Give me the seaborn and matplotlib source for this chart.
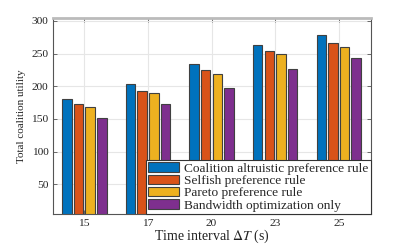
import matplotlib
matplotlib.use("Agg")
import matplotlib.pyplot as plt
import seaborn as sns
import pandas as pd

categories = ["15", "17", "20", "23", "25"]
series_names = ["Coalition altruistic preference rule", "Selfish preference rule",
                "Pareto preference rule", "Bandwidth optimization only"]
altruistic = [181, 204, 234, 263, 279]
selfish = [173, 193, 225, 254, 266]
pareto = [168, 190, 219, 249, 260]
bandwidth = [151, 173, 198, 226, 244]
colors = ["#0072BD", "#D95319", "#EDB120", "#7E2F8E"]

rows = []
for name, vals in zip(series_names, [altruistic, selfish, pareto, bandwidth]):
    for c, v in zip(categories, vals):
        rows.append({"interval": c, "utility": v, "rule": name})
df = pd.DataFrame(rows)

sns.set_style("white")
plt.rcParams["font.family"] = ["Liberation Serif", "DejaVu Serif"]
plt.rcParams["mathtext.fontset"] = "stix"

fig = plt.figure(figsize=(4.09, 2.45), dpi=100)
ax = fig.add_axes([0.130, 0.128, 0.776, 0.797])
sns.barplot(data=df, x="interval", y="utility", hue="rule", order=categories,
            hue_order=series_names, palette=colors, saturation=1, width=0.73, gap=0.18,
            edgecolor="#404040", linewidth=0.8, ax=ax, legend=True)

ax.set_xlim(-0.49, 4.5)
ax.set_ylim(5, 304)
ax.set_yticks([50, 100, 150, 200, 250, 300])
ax.grid(True, color="#e6e6e6", linewidth=0.8)
ax.set_axisbelow(True)
for s in ax.spines.values():
    s.set_visible(True)
    s.set_color("#555555")
    s.set_linewidth(0.8)
ax.spines["top"].set_color("#bbbbbb")
ax.spines["top"].set_linewidth(2)
ax.tick_params(axis="both", which="both", direction="in", length=3, width=0.6,
               colors="#555555", labelcolor="#222222", labelsize=8.2,
               top=True, right=True, bottom=True, left=True)
ax.tick_params(axis="x", pad=3.5)
ax.set_xlabel(r"Time interval $\Delta T$ (s)", fontsize=10, color="#222222", labelpad=0)
ax.set_ylabel("Total coalition utility", fontsize=8, color="#222222", labelpad=4)

leg = ax.legend(loc="lower right", fontsize=9.6, frameon=True, fancybox=False,
                edgecolor="#333333", framealpha=1, borderpad=0.15, labelspacing=0.0,
                handlelength=2.3, handleheight=0.7, handletextpad=0.4,
                borderaxespad=0.0)
leg.get_frame().set_linewidth(0.8)

fig.savefig("out.png", dpi=100)
